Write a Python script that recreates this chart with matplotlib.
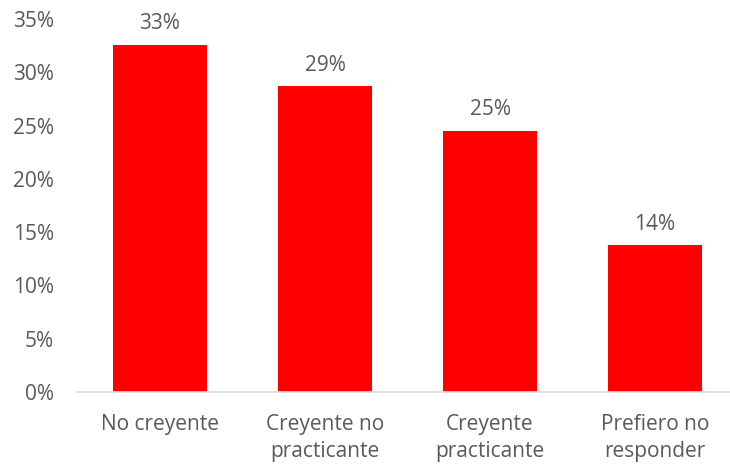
import matplotlib.pyplot as plt
from matplotlib.ticker import FuncFormatter

categories = ["No creyente", "Creyente no\npracticante", "Creyente\npracticante", "Prefiero no\nresponder"]
values = [0.326, 0.287, 0.245, 0.138]
bar_labels = ["33%", "29%", "25%", "14%"]

plt.rcParams['font.family'] = ['Open Sans', 'DejaVu Sans']
gray = "#595959"

fig = plt.figure(figsize=(7.30, 4.67), dpi=100)
W, H = 730, 467
ax = fig.add_axes([77.5 / W, (H - 392) / H, (730 - 77.5) / W, (392 - 19) / H])

x = list(range(len(categories)))
bars = ax.bar(x, values, width=0.575, color="#ff0000")

for b, lab in zip(bars, bar_labels):
    ax.annotate(lab, (b.get_x() + b.get_width() / 2, b.get_height()),
                xytext=(0, 7.5), textcoords="offset points",
                ha="center", va="bottom", fontsize=15, color=gray)

ax.set_xlim(-0.5, -0.5 + (730 - 77.5) / 165)
ax.set_ylim(0, 0.35)
ax.set_yticks([i * 0.05 for i in range(8)])
ax.yaxis.set_major_formatter(FuncFormatter(lambda v, p: f"{v:.0%}"))
ax.set_xticks(x)
ax.set_xticklabels(categories, linespacing=1.38)

ax.tick_params(axis="y", length=0, pad=17, labelsize=15, labelcolor=gray)
ax.tick_params(axis="x", length=0, pad=16, labelsize=15, labelcolor=gray)

for s in ["top", "right", "left"]:
    ax.spines[s].set_visible(False)
ax.spines["bottom"].set_color("#d9d9d9")
ax.spines["bottom"].set_linewidth(1.2)

fig.savefig("out.png", dpi=100)
